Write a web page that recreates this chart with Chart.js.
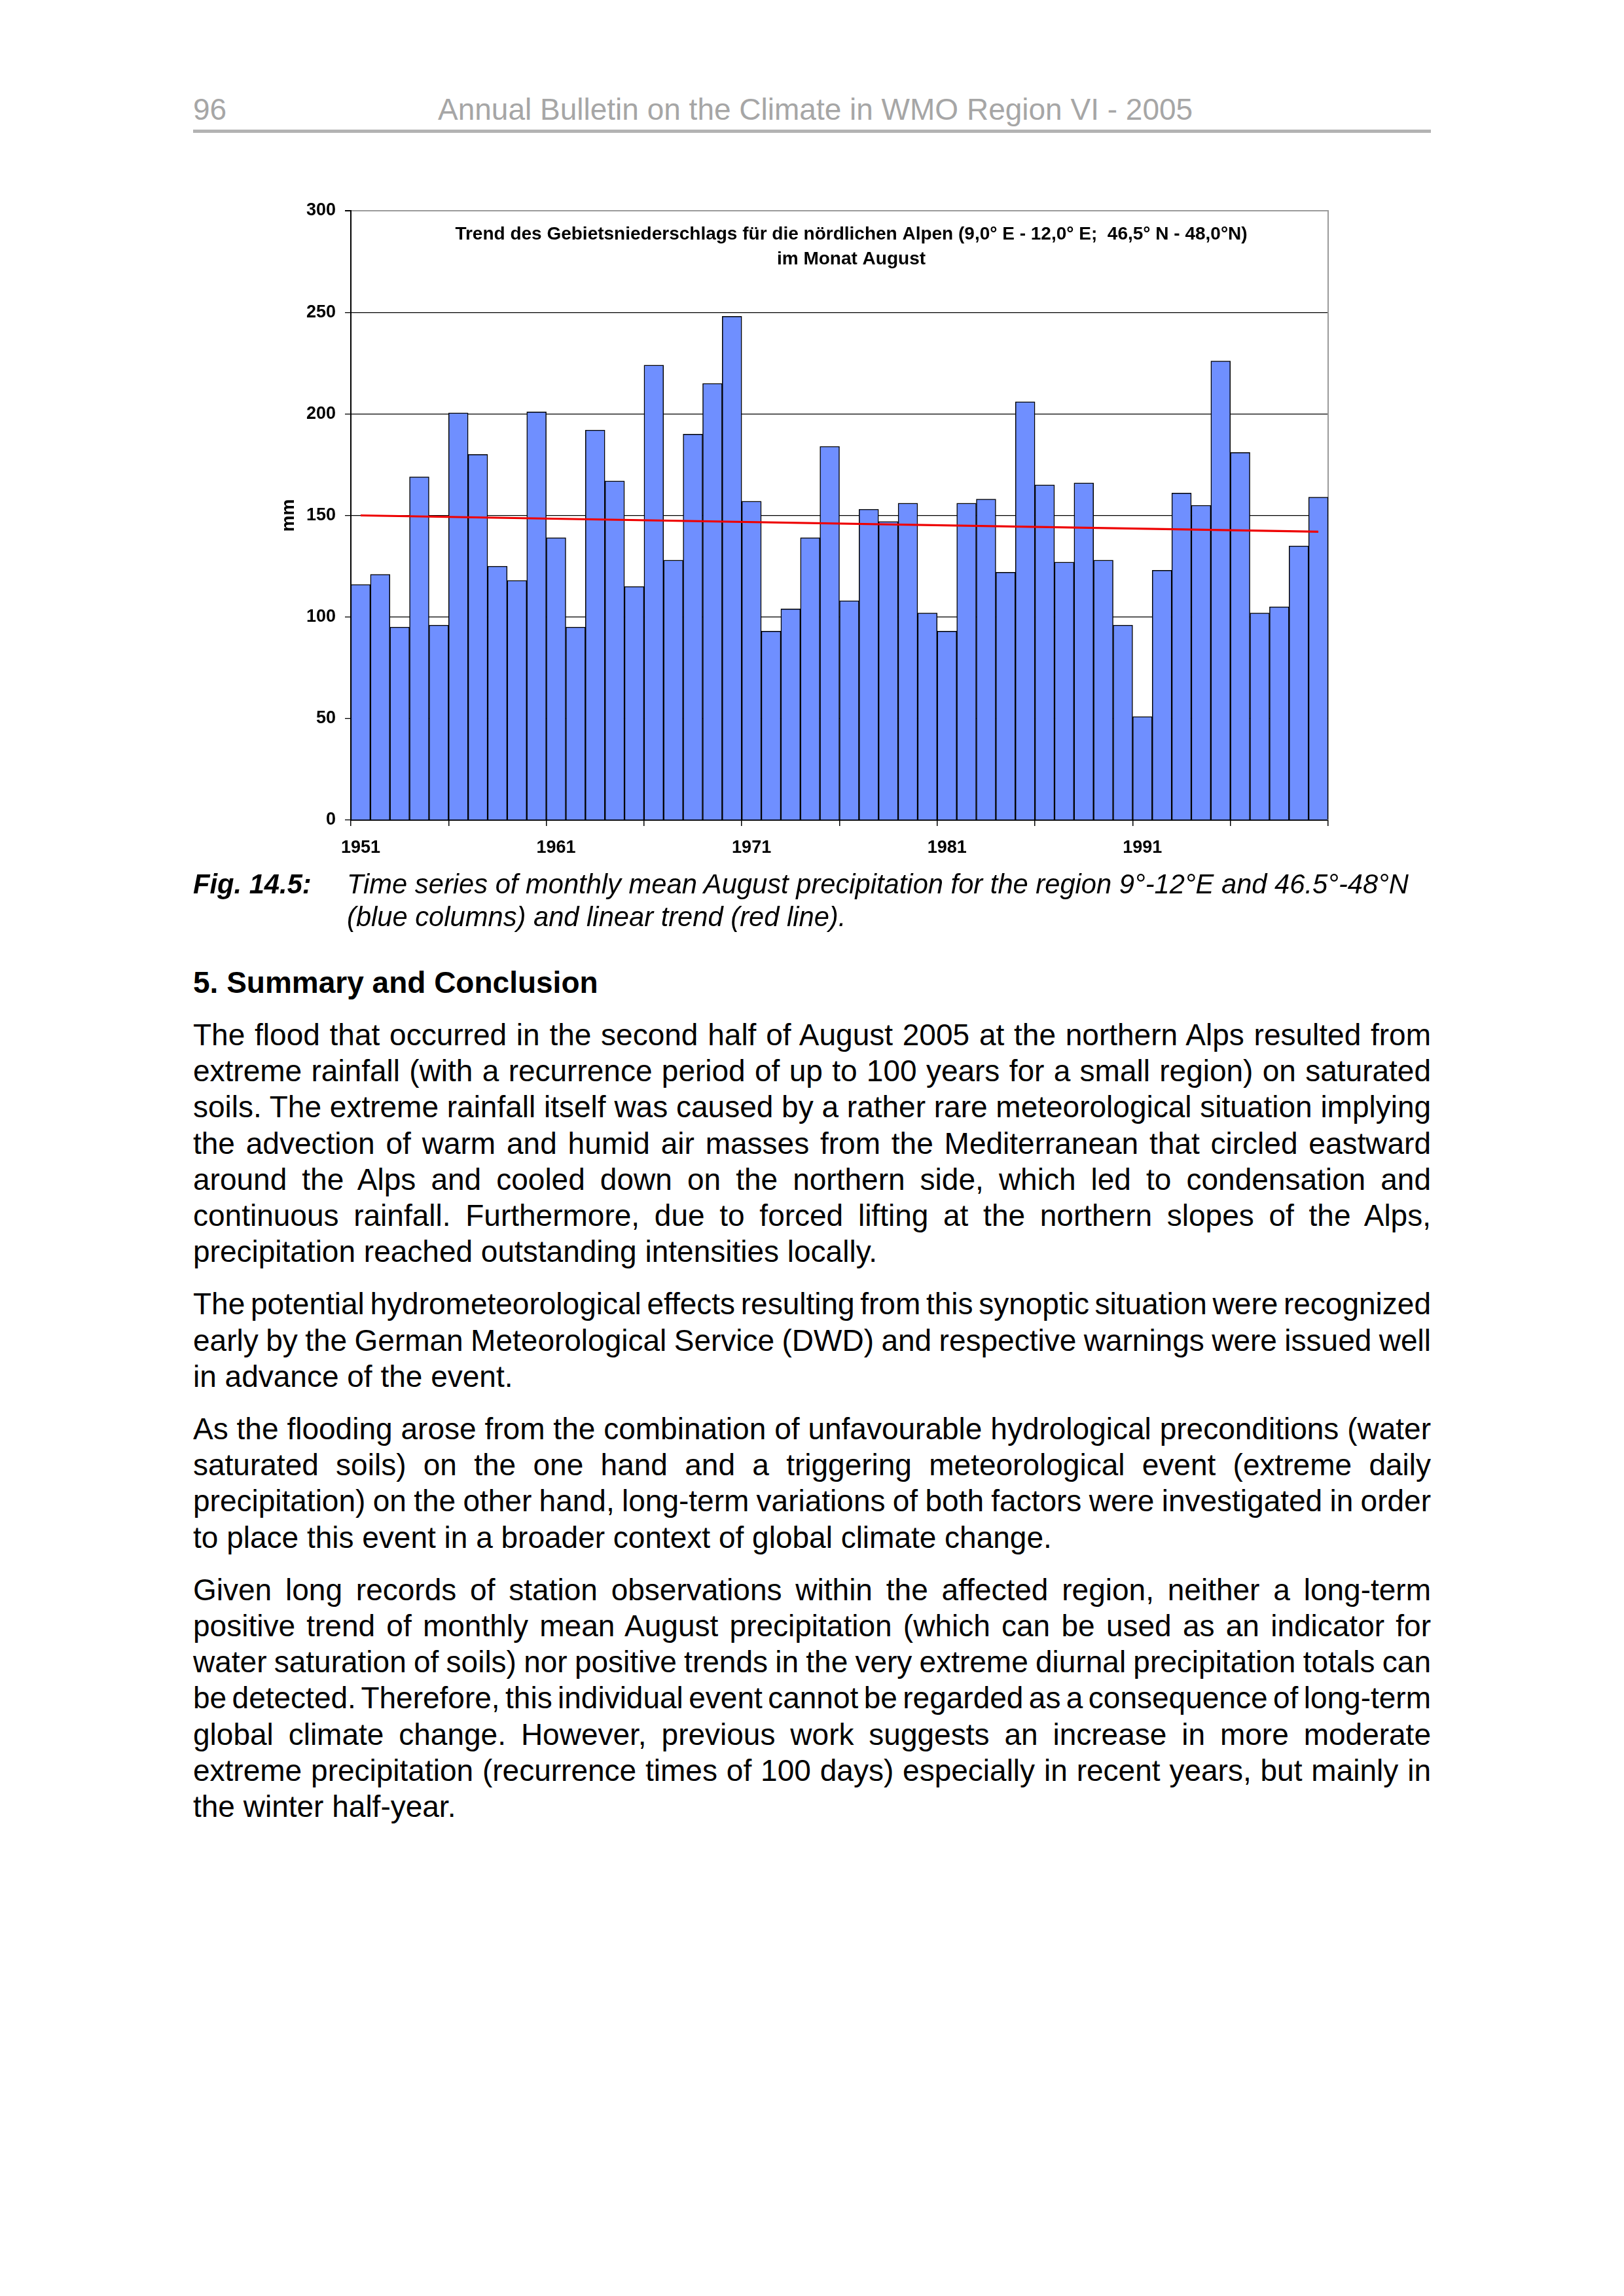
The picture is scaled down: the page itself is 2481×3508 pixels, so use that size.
<!DOCTYPE html>
<html>
<head>
<meta charset="utf-8">
<script src="https://cdn.jsdelivr.net/npm/chart.js@4.4.1/dist/chart.umd.min.js"></script>
<style>
html,body{margin:0;padding:0;background:#fff;}
body{width:2481px;height:3508px;position:relative;overflow:hidden;font-family:"Liberation Sans",Arial,sans-serif;color:#000;}
.abs{position:absolute;white-space:nowrap;}
#hdrnum{left:295px;top:140px;font-size:46px;line-height:55px;color:#a6a6a6;}
#hdrtitle{left:669px;top:140px;font-size:46px;line-height:55px;color:#a6a6a6;}
#rule{position:absolute;left:295px;top:198px;width:1891px;height:5px;background:#b3b3b3;}
#chartbox{position:absolute;left:400px;top:300px;width:1680px;height:1040px;}
#figlabel{left:295px;top:1326px;font-size:41.7px;line-height:49.5px;font-style:italic;font-weight:bold;}
#figtext{left:530px;top:1326px;font-size:41.7px;line-height:49.5px;font-style:italic;}
#heading{left:295px;top:1474px;font-size:46px;line-height:55px;font-weight:bold;}
#body{position:absolute;left:295px;top:1554px;width:1891px;font-size:46px;line-height:55.2px;}
#body .p{margin:0 0 25px 0;}
#body .l{text-align:justify;text-align-last:justify;white-space:nowrap;}
#body .l.last{text-align-last:left;}
</style>
</head>
<body>
<div class="abs" id="hdrnum">96</div>
<div class="abs" id="hdrtitle">Annual Bulletin on the Climate in WMO Region VI - 2005</div>
<div id="rule"></div>

<div id="chartbox"><canvas id="c" width="1680" height="1040"></canvas></div>

<div class="abs" id="figlabel">Fig. 14.5:</div>
<div class="abs" id="figtext">Time series of monthly mean August precipitation for the region 9°-12°E and 46.5°-48°N<br>(blue columns) and linear trend (red line).</div>

<div class="abs" id="heading">5. Summary and Conclusion</div>

<div id="body">
<div class="p">
<div class="l">The flood that occurred in the second half of August 2005 at the northern Alps resulted from</div>
<div class="l">extreme rainfall (with a recurrence period of up to 100 years for a small region) on saturated</div>
<div class="l">soils. The extreme rainfall itself was caused by a rather rare meteorological situation implying</div>
<div class="l">the advection of warm and humid air masses from the Mediterranean that circled eastward</div>
<div class="l">around the Alps and cooled down on the northern side, which led to condensation and</div>
<div class="l">continuous rainfall. Furthermore, due to forced lifting at the northern slopes of the Alps,</div>
<div class="l last">precipitation reached outstanding intensities locally.</div>
</div>
<div class="p">
<div class="l">The potential hydrometeorological effects resulting from this synoptic situation were recognized</div>
<div class="l">early by the German Meteorological Service (DWD) and respective warnings were issued well</div>
<div class="l last">in advance of the event.</div>
</div>
<div class="p">
<div class="l">As the flooding arose from the combination of unfavourable hydrological preconditions (water</div>
<div class="l">saturated soils) on the one hand and a triggering meteorological event (extreme daily</div>
<div class="l">precipitation) on the other hand, long-term variations of both factors were investigated in order</div>
<div class="l last">to place this event in a broader context of global climate change.</div>
</div>
<div class="p">
<div class="l">Given long records of station observations within the affected region, neither a long-term</div>
<div class="l">positive trend of monthly mean August precipitation (which can be used as an indicator for</div>
<div class="l">water saturation of soils) nor positive trends in the very extreme diurnal precipitation totals can</div>
<div class="l">be detected. Therefore, this individual event cannot be regarded as a consequence of long-term</div>
<div class="l">global climate change. However, previous work suggests an increase in more moderate</div>
<div class="l">extreme precipitation (recurrence times of 100 days) especially in recent years, but mainly in</div>
<div class="l last">the winter half-year.</div>
</div>
</div>

<script>
// Fit over-long justified lines by compressing word spacing (as the word processor did)
document.querySelectorAll('#body .l').forEach(el => {
  const span = document.createElement('span');
  span.textContent = el.textContent;
  el.textContent = '';
  el.appendChild(span);
  const w = span.getBoundingClientRect().width;
  const W = el.clientWidth;
  if (w > W + 0.5) {
    const spaces = (span.textContent.match(/ /g) || []).length;
    el.style.wordSpacing = ((W - w) / spaces - 0.3) + 'px';
  }
});
</script>

<script>
const years = ['1951','1952','1953','1954','1955','1956','1957','1958','1959','1960',
               '1961','1962','1963','1964','1965','1966','1967','1968','1969','1970',
               '1971','1972','1973','1974','1975','1976','1977','1978','1979','1980',
               '1981','1982','1983','1984','1985','1986','1987','1988','1989','1990',
               '1991','1992','1993','1994','1995','1996','1997','1998','1999','2000'];
const precipitation = [116,121,95,169,96,200.5,180,125,118,201,
                       139,95,192,167,115,224,128,190,215,248,
                       157,93,104,139,184,108,153,147,156,102,
                       93,156,158,122,206,165,127,166,128,96,
                       51,123,161,155,226,181,102,105,135,159];
const trendYears = ['1951','2000'];
const trendValues = [150, 142];
const labeledYears = ['1951','1961','1971','1981','1991'];
const yMin = 0, yMax = 300, yStep = 50;
const yAxisTitle = 'mm';
const chartTitleLines = ['Trend des Gebietsniederschlags für die nördlichen Alpen (9,0° E - 12,0° E;  46,5° N - 48,0°N)', 'im Monat August'];

const FONT = '"Liberation Sans", Arial, sans-serif';
Chart.defaults.font.family = FONT;
Chart.defaults.color = '#000';

const framePlugin = {
  id: 'frame',
  beforeDatasetsDraw(chart) {
    const {ctx, chartArea: a} = chart;
    ctx.save();
    ctx.strokeStyle = '#9a9a9a';
    ctx.lineWidth = 2;
    ctx.beginPath();
    ctx.moveTo(a.right, a.top - 1);
    ctx.lineTo(a.right, a.bottom);
    ctx.stroke();
    ctx.restore();
  },
  afterDraw(chart) {
    const {ctx, chartArea: a} = chart;
    ctx.save();
    ctx.fillStyle = '#000';
    ctx.font = 'bold 28px ' + FONT;
    ctx.textAlign = 'center';
    ctx.textBaseline = 'middle';
    const cx = (a.left + a.right) / 2 + 18;
    ctx.fillText(chartTitleLines[0], cx, a.top + 36);
    ctx.fillText(chartTitleLines[1], cx, a.top + 74);
    ctx.restore();
  }
};

new Chart(document.getElementById('c'), {
  type: 'bar',
  data: {
    labels: years,
    datasets: [
      {
        type: 'line',
        data: trendYears.map((y, i) => ({x: y, y: trendValues[i]})),
        borderColor: '#ee0000',
        borderWidth: 3.2,
        pointRadius: 0,
        fill: false,
        tension: 0,
        order: 0
      },
      {
        type: 'bar',
        data: precipitation,
        backgroundColor: '#6f8fff',
        borderColor: '#000',
        borderWidth: 1.5,
        barPercentage: 1,
        categoryPercentage: 1,
        order: 1
      }
    ]
  },
  options: {
    responsive: false,
    devicePixelRatio: 1,
    animation: false,
    layout: {padding: {left: 0, top: 22, right: 51, bottom: 0}},
    plugins: {legend: {display: false}, tooltip: {enabled: false}, title: {display: false}},
    scales: {
      x: {
        type: 'category',
        offset: true,
        grid: {
          offset: true,
          drawOnChartArea: false,
          drawTicks: true,
          tickLength: 9,
          lineWidth: 1.5,
          color: (ctx) => (ctx.index === undefined || ctx.index % 5 === 0) ? '#000' : 'rgba(0,0,0,0)'
        },
        border: {display: true, color: '#000', width: 2},
        ticks: {
          autoSkip: false,
          maxRotation: 0,
          minRotation: 0,
          padding: 17,
          color: '#000',
          font: {size: 27, weight: 'bold'},
          callback: function(value) {
            const l = this.getLabelForValue(value);
            return labeledYears.includes(l) ? l : '';
          }
        },
        afterFit(scale) { scale.height = 87; scale.paddingLeft = 0; scale.paddingRight = 0; }
      },
      y: {
        min: yMin,
        max: yMax,
        grid: {
          drawTicks: true,
          tickLength: 9,
          color: (ctx) => (ctx.tick && ctx.tick.value === yMax) ? '#9a9a9a' : '#000',
          tickColor: '#000',
          lineWidth: (ctx) => (ctx.tick && ctx.tick.value === yMax) ? 2 : 1.3
        },
        border: {display: true, color: '#000', width: 2},
        ticks: {
          stepSize: yStep,
          padding: 14,
          color: '#000',
          font: {size: 27, weight: 'bold'}
        },
        title: {
          display: true,
          text: yAxisTitle,
          color: '#000',
          font: {size: 28, weight: 'bold'},
          padding: {top: 24, bottom: 0}
        },
        afterFit(scale) { scale.width = 136; scale.paddingTop = 0; scale.paddingBottom = 0; }
      }
    }
  },
  plugins: [framePlugin]
});
</script>
</body>
</html>
